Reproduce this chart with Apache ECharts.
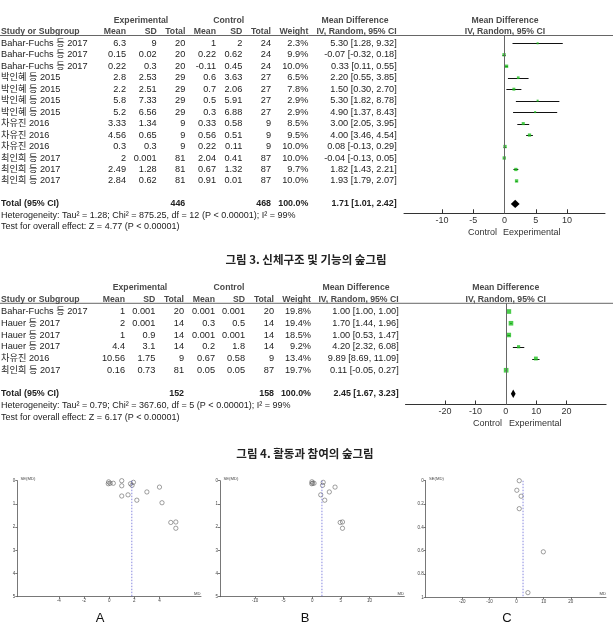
<!DOCTYPE html>
<html><head><meta charset="utf-8">
<script src="https://cdn.jsdelivr.net/npm/echarts@6/dist/echarts.min.js"></script>
<style>html,body{margin:0;padding:0;background:#fff}#c{width:613px;height:636px}</style>
</head><body><div id="c"></div>
<script>
// ---------- Forest plot 1 (그림 3) ----------
const studies1 = ['Bahar-Fuchs 등 2017','Bahar-Fuchs 등 2017','Bahar-Fuchs 등 2017','박인혜 등 2015','박인혜 등 2015','박인혜 등 2015','박인혜 등 2015','차유진 2016','차유진 2016','차유진 2016','최인희 등 2017','최인희 등 2017','최인희 등 2017'];
const expMean1 = [6.3,0.15,0.22,2.8,2.2,5.8,5.2,3.33,4.56,0.3,2,2.49,2.84];
const expSD1   = [9,0.02,0.3,2.53,2.51,7.33,6.56,1.34,0.65,0.3,0.001,1.28,0.62];
const expN1    = [20,20,20,29,29,29,29,9,9,9,81,81,81];
const ctlMean1 = [1,0.22,-0.11,0.6,0.7,0.5,0.3,0.33,0.56,0.22,2.04,0.67,0.91];
const ctlSD1   = [2,0.62,0.45,3.63,2.06,5.91,6.88,0.58,0.51,0.11,0.41,1.32,0.01];
const ctlN1    = [24,24,24,27,27,27,27,9,9,9,87,87,87];
const weight1  = [2.3,9.9,10.0,6.5,7.8,2.9,2.9,8.5,9.5,10.0,10.0,9.7,10.0];
const md1 = [5.30,-0.07,0.33,2.20,1.50,5.30,4.90,3.00,4.00,0.08,-0.04,1.82,1.93];
const lo1 = [1.28,-0.32,0.11,0.55,0.30,1.82,1.37,2.05,3.46,-0.13,-0.13,1.43,1.79];
const hi1 = [9.32,0.18,0.55,3.85,2.70,8.78,8.43,3.95,4.54,0.29,0.05,2.21,2.07];
const total1 = {expN:446, ctlN:468, md:1.71, lo:1.01, hi:2.42};
const het1 = 'Heterogeneity: Tau² = 1.28; Chi² = 875.25, df = 12 (P < 0.00001); I² = 99%';
const test1 = 'Test for overall effect: Z = 4.77 (P < 0.00001)';
const ticks1 = [-10,-5,0,5,10];
const favours1 = ['Control','Eexperimental'];
const title1 = '그림 3. 신체구조 및 기능의 숲그림';

// ---------- Forest plot 2 (그림 4) ----------
const studies2 = ['Bahar-Fuchs 등 2017','Hauer 등 2017','Hauer 등 2017','Hauer 등 2017','차유진 2016','최인희 등 2017'];
const expMean2 = [1,2,1,4.4,10.56,0.16];
const expSD2   = [0.001,0.001,0.9,3.1,1.75,0.73];
const expN2    = [20,14,14,14,9,81];
const ctlMean2 = [0.001,0.3,0.001,0.2,0.67,0.05];
const ctlSD2   = [0.001,0.5,0.001,1.8,0.58,0.05];
const ctlN2    = [20,14,14,14,9,87];
const weight2  = [19.8,19.4,18.5,9.2,13.4,19.7];
const md2 = [1.00,1.70,1.00,4.20,9.89,0.11];
const lo2 = [1.00,1.44,0.53,2.32,8.69,-0.05];
const hi2 = [1.00,1.96,1.47,6.08,11.09,0.27];
const total2 = {expN:152, ctlN:158, md:2.45, lo:1.67, hi:3.23};
const het2 = 'Heterogeneity: Tau² = 0.79; Chi² = 367.60, df = 5 (P < 0.00001); I² = 99%';
const test2 = 'Test for overall effect: Z = 6.17 (P < 0.00001)';
const ticks2 = [-20,-10,0,10,20];
const favours2 = ['Control','Experimental'];
const title2 = '그림 4. 활동과 참여의 숲그림';

// ---------- Funnel plots ----------
const funA_md = [-0.07,0.33,0.08,-0.04,1.0,1.0,1.0,1.82,1.93,1.70,1.50,2.20,3.00,4.00,4.20,4.90,5.30,5.30];
const funA_se = [0.13,0.11,0.11,0.05,0.0,0.22,0.66,0.20,0.07,0.13,0.61,0.84,0.485,0.276,0.95,1.80,1.78,2.05];
const funA_line = 1.8;
const funA_xticks = [-4,-2,0,2,4];
const funB_md = [5.30,-0.07,0.33,2.20,1.50,5.30,4.90,3.00,4.00,0.08,-0.04,1.82,1.93];
const funB_se = [2.05,0.13,0.11,0.84,0.61,1.78,1.80,0.485,0.276,0.107,0.046,0.20,0.071];
const funB_line = 1.71;
const funB_xticks = [-10,-5,0,5,10];
const funC_md = [1.00,1.70,1.00,4.20,9.89,0.11];
const funC_se = [0.0,0.133,0.24,0.96,0.61,0.082];
const funC_line = 2.4;
const funC_xticks = [-20,-10,0,10,20];
const panelLabels = ['A','B','C'];

// ---------- layout (positions / styles) ----------
const FONT = '"Liberation Sans", Arial, "Noto Sans CJK KR", sans-serif';
const KFONT = '"Noto Sans CJK KR", sans-serif';
const L1 = {y0:43.3, h:11.47, top:35.5, bottom:213.3, plotL:404, plotW:201, xr:16.08,
  col:{study:1,eMean:126,eSD:156.7,eN:185.3,cMean:216,cSD:242.3,cN:271,weight:308.3,md:396.7,grpExp:141,grpCtl:228.7,mdHead:355,plotHead:505}};
const L2 = {y0:311.5, h:11.75, top:303.3, bottom:404.5, plotL:405.5, plotW:200.6, xr:33,
  col:{study:1,eMean:125,eSD:155.3,eN:184,cMean:215,cSD:245,cN:274,weight:311,md:398.7,grpExp:140,grpCtl:229,mdHead:356,plotHead:505.7}};

function ci(m,l,h){ return m.toFixed(2)+' ['+l.toFixed(2)+', '+h.toFixed(2)+']'; }

function buildCells(c, d){
  const cells = [];
  const H = {bold:true, color:'#4a4a4a', size:8.7};
  const R = {bold:false, color:'#222', size:9.2};
  const add = (x,row,text,align,st)=>cells.push(Object.assign({x,row,text,align},st));
  add(c.grpExp,-2,'Experimental','center',H);
  add(c.grpCtl,-2,'Control','center',H);
  add(c.mdHead,-2,'Mean Difference','center',H);
  add(c.plotHead,-2,'Mean Difference','center',H);
  add(c.study,-1,'Study or Subgroup','left',H);
  add(c.eMean,-1,'Mean','right',H); add(c.eSD,-1,'SD','right',H); add(c.eN,-1,'Total','right',H);
  add(c.cMean,-1,'Mean','right',H); add(c.cSD,-1,'SD','right',H); add(c.cN,-1,'Total','right',H);
  add(c.weight,-1,'Weight','right',H);
  add(c.md,-1,'IV, Random, 95% CI','right',H);
  add(c.plotHead,-1,'IV, Random, 95% CI','center',H);
  d.studies.forEach((s,i)=>{
    add(c.study,i,s,'left',R);
    add(c.eMean,i,String(d.eMean[i]),'right',R);
    add(c.eSD,i,String(d.eSD[i]),'right',R);
    add(c.eN,i,String(d.eN[i]),'right',R);
    add(c.cMean,i,String(d.cMean[i]),'right',R);
    add(c.cSD,i,String(d.cSD[i]),'right',R);
    add(c.cN,i,String(d.cN[i]),'right',R);
    add(c.weight,i,d.w[i].toFixed(1)+'%','right',R);
    add(c.md,i,ci(d.md[i],d.lo[i],d.hi[i]),'right',R);
  });
  const tr = d.totalRow;
  const B = {bold:true, color:'#222', size:8.9};
  add(c.study,tr,'Total (95% CI)','left',B);
  add(c.eN,tr,String(d.total.expN),'right',B);
  add(c.cN,tr,String(d.total.ctlN),'right',B);
  add(c.weight,tr,'100.0%','right',B);
  add(c.md,tr,ci(d.total.md,d.total.lo,d.total.hi),'right',B);
  add(c.study,tr+1,d.het,'left',{bold:false,color:'#222',size:9});
  add(c.study,tr+2,d.test,'left',{bold:false,color:'#222',size:9});
  return cells;
}

const D1 = {studies:studies1,eMean:expMean1,eSD:expSD1,eN:expN1,cMean:ctlMean1,cSD:ctlSD1,cN:ctlN1,w:weight1,md:md1,lo:lo1,hi:hi1,total:total1,het:het1,test:test1,totalRow:14};
const D2 = {studies:studies2,eMean:expMean2,eSD:expSD2,eN:expN2,cMean:ctlMean2,cSD:ctlSD2,cN:ctlN2,w:weight2,md:md2,lo:lo2,hi:hi2,total:total2,het:het2,test:test2,totalRow:7};
const cells1 = buildCells(L1.col, D1);
const cells2 = buildCells(L2.col, D2);

function gridOf(l,t,w,h){ return {left:l, top:t, width:w, height:h, containLabel:false, outerBoundsMode:'none'}; }
function yr(L){ return {min:(L.top-L.y0)/L.h, max:(L.bottom-L.y0)/L.h}; }

const grids = [
  gridOf(0, L1.top, 613, L1.bottom-L1.top),
  gridOf(L1.plotL, L1.top, L1.plotW, L1.bottom-L1.top),
  gridOf(0, L2.top, 613, L2.bottom-L2.top),
  gridOf(L2.plotL, L2.top, L2.plotW, L2.bottom-L2.top),
  gridOf(17.3, 480.7, 183.7, 116),
  gridOf(220, 480.7, 184.3, 116),
  gridOf(425.7, 480.7, 180.3, 116.6)
];

const hiddenX = g => ({type:'value', gridIndex:g, min:0, max:613, show:false, axisLine:{onZero:false}});
const hiddenY = (g,L) => Object.assign({type:'value', gridIndex:g, inverse:true, show:false, axisLine:{onZero:false}}, yr(L));
const plotX = (g,L,ticks) => ({type:'value', gridIndex:g, min:-L.xr, max:L.xr,
  axisLine:{show:true, onZero:false, lineStyle:{color:'#333', width:1}},
  axisTick:{show:true, inside:true, length:4, customValues:ticks, lineStyle:{color:'#333'}},
  axisLabel:{show:true, customValues:ticks, fontSize:9, color:'#333', margin:3, fontFamily:FONT},
  splitLine:{show:false}});
const funX = (g,r0,r1,ticks) => ({type:'value', gridIndex:g, min:r0, max:r1,
  axisLine:{show:true, onZero:false, lineStyle:{color:'#555', width:0.8}},
  axisTick:{show:true, length:2, customValues:ticks, lineStyle:{color:'#555', width:0.8}},
  axisLabel:{show:true, customValues:ticks, fontSize:4.5, color:'#444', margin:2, fontFamily:FONT},
  splitLine:{show:false}});
const funY = (g,max,interval) => ({type:'value', gridIndex:g, min:0, max:max, interval:interval, inverse:true,
  axisLine:{show:true, onZero:false, lineStyle:{color:'#555', width:0.8}},
  axisTick:{show:true, length:2, lineStyle:{color:'#555', width:0.8}},
  axisLabel:{show:true, fontSize:4.5, color:'#444', margin:2, fontFamily:FONT},
  splitLine:{show:false}});

function tableSeries(g, cells){
  return {type:'custom', xAxisIndex:g, yAxisIndex:g, silent:true, animation:false, clip:false,
    data: cells.map(c=>[c.x, c.row]),
    renderItem(params, api){
      const c = cells[params.dataIndex];
      const p = api.coord([c.x, c.row]);
      return {type:'text', x:p[0], y:p[1], style:{text:c.text, align:c.align, textAlign:c.align,
        verticalAlign:'middle', textVerticalAlign:'middle', fontSize:c.size, fontFamily:FONT,
        fontWeight:c.bold?'bold':'normal', fill:c.color}};
    }};
}
function ciSeries(g, md, lo, hi){
  return {type:'custom', xAxisIndex:g, yAxisIndex:g, silent:true, animation:false,
    data: md.map((m,i)=>[m, i, lo[i], hi[i]]),
    renderItem(params, api){
      const a = api.coord([api.value(2), api.value(1)]);
      const b = api.coord([api.value(3), api.value(1)]);
      return {type:'line', shape:{x1:a[0], y1:Math.round(a[1])+0.5, x2:b[0], y2:Math.round(b[1])+0.5},
        style:{stroke:'#111', lineWidth:1}};
    }};
}
function squareSeries(g, md, w){
  return {type:'scatter', xAxisIndex:g, yAxisIndex:g, silent:true, animation:false,
    data: md.map((m,i)=>[m, i, w[i]]),
    symbol:'rect', symbolSize: v => Math.max(2, Math.sqrt(v[2])*1.05),
    itemStyle:{color:'#1fbf1f'},
    markLine:{silent:true, symbol:['none','none'], label:{show:false}, animation:false,
      lineStyle:{color:'#666', type:'solid', width:1}, data:[{xAxis:0}]}};
}
function diamondSeries(g, t, row){
  return {type:'custom', xAxisIndex:g, yAxisIndex:g, silent:true, animation:false,
    data:[[t.md, row, t.lo, t.hi]],
    renderItem(params, api){
      const c = api.coord([api.value(0), api.value(1)]);
      const l = api.coord([api.value(2), api.value(1)]);
      const r = api.coord([api.value(3), api.value(1)]);
      return {type:'polygon', shape:{points:[[l[0],c[1]],[c[0],c[1]-4.2],[r[0],c[1]],[c[0],c[1]+4.2]]},
        style:{fill:'#000'}};
    }};
}
function funnelSeries(g, md, se){
  return {type:'scatter', xAxisIndex:g, yAxisIndex:g, silent:true, animation:false,
    data: md.map((m,i)=>[m, se[i]]), symbol:'circle', symbolSize:4.3,
    itemStyle:{color:'rgba(0,0,0,0)', borderColor:'#555', borderWidth:0.7}};
}
function funnelLine(g, v, ymax){
  return {type:'line', xAxisIndex:g, yAxisIndex:g, silent:true, animation:false, showSymbol:false, symbol:'none',
    data:[[v,0],[v,ymax]], lineStyle:{color:'#6a6ad8', type:[1.5,1.5], width:0.8}};
}

function txt(x,y,text,opt){
  opt = opt||{};
  return {type:'text', x:x, y:y, silent:true, style:{text:text, align:opt.align||'center', textAlign:opt.align||'center',
    verticalAlign:'middle', textVerticalAlign:'middle', fontSize:opt.size||9, fontFamily:opt.family||FONT,
    fontWeight:opt.bold?'bold':'normal', fill:opt.color||'#222'}};
}
function hline(x1,x2,y,color,w){
  return {type:'line', silent:true, shape:{x1:x1,y1:y,x2:x2,y2:y}, style:{stroke:color, lineWidth:w}};
}

const graphics = [
  hline(0, 613, L1.top, '#555', 0.9),
  hline(0, 613, L2.top, '#555', 0.9),
  txt(497, L1.bottom+19, favours1[0], {align:'right', size:9, color:'#333'}),
  txt(503, L1.bottom+19, favours1[1], {align:'left', size:9, color:'#333'}),
  txt(502, L2.bottom+19.5, favours2[0], {align:'right', size:9, color:'#333'}),
  txt(509, L2.bottom+19.5, favours2[1], {align:'left', size:9, color:'#333'}),
  txt(306, 259.5, title1, {size:11.5, bold:true, family:KFONT, color:'#222'}),
  txt(305, 454, title2, {size:11.5, bold:true, family:KFONT, color:'#222'}),
  txt(100, 618, panelLabels[0], {size:13, color:'#111'}),
  txt(305, 618, panelLabels[1], {size:13, color:'#111'}),
  txt(507, 618, panelLabels[2], {size:13, color:'#111'}),
  txt(20.5, 478.8, 'SE(MD)', {align:'left', size:4.2, color:'#444'}),
  txt(223.5, 478.8, 'SE(MD)', {align:'left', size:4.2, color:'#444'}),
  txt(429, 478.8, 'SE(MD)', {align:'left', size:4.2, color:'#444'}),
  txt(200.5, 594, 'MD', {align:'right', size:4.2, color:'#444'}),
  txt(404, 594, 'MD', {align:'right', size:4.2, color:'#444'}),
  txt(606, 594, 'MD', {align:'right', size:4.2, color:'#444'})
];

const chart = echarts.init(document.getElementById('c'), null, {renderer:'canvas', width:613, height:636});
chart.setOption({
  animation:false,
  backgroundColor:'#fff',
  grid: grids,
  xAxis: [hiddenX(0), plotX(1,L1,ticks1), hiddenX(2), plotX(3,L2,ticks2),
          funX(4,-7.3,7.3,funA_xticks), funX(5,-16.1,16.1,funB_xticks), funX(6,-33.5,33,funC_xticks)],
  yAxis: [hiddenY(0,L1), hiddenY(1,L1), hiddenY(2,L2), hiddenY(3,L2),
          funY(4,5,1), funY(5,5,1), funY(6,1,0.2)],
  series: [
    tableSeries(0, cells1),
    ciSeries(1, md1, lo1, hi1), squareSeries(1, md1, weight1), diamondSeries(1, total1, 14),
    tableSeries(2, cells2),
    ciSeries(3, md2, lo2, hi2), squareSeries(3, md2, weight2), diamondSeries(3, total2, 7),
    funnelLine(4, funA_line, 5), funnelSeries(4, funA_md, funA_se),
    funnelLine(5, funB_line, 5), funnelSeries(5, funB_md, funB_se),
    funnelLine(6, funC_line, 1), funnelSeries(6, funC_md, funC_se)
  ],
  graphic: {elements: graphics}
});
</script></body></html>
